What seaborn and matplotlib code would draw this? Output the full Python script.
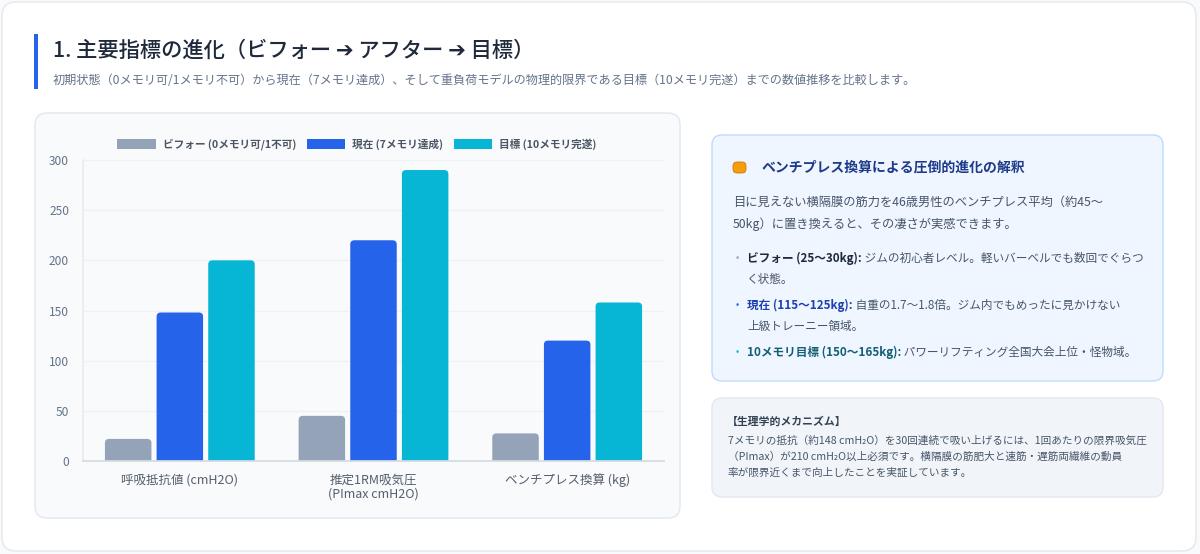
import matplotlib
matplotlib.use('Agg')
import matplotlib.pyplot as plt
from matplotlib.patches import FancyBboxPatch, Rectangle, Patch
import seaborn as sns
import pandas as pd

# DATA
metrics = ['呼吸抵抗値 (cmH2O)', '推定1RM吸気圧\n(PImax cmH2O)', 'ベンチプレス換算 (kg)']
series = ['ビフォー (0メモリ可/1不可)', '現在 (7メモリ達成)', '目標 (10メモリ完遂)']
before_vals = [22, 45, 27.5]
current_vals = [148, 220, 120]
target_vals = [200, 290, 158]
y_ticks = [0, 50, 100, 150, 200, 250, 300]

colors = ['#94a3b8', '#2563eb', '#06b6d4']

rows = []
for name, vals in zip(series, [before_vals, current_vals, target_vals]):
    for m, v in zip(metrics, vals):
        rows.append({'metric': m, 'series': name, 'value': v})
df = pd.DataFrame(rows)

sns.set_theme(style='white')
plt.rcParams['font.family'] = ['Noto Sans CJK JP', 'DejaVu Sans']

W, H = 1200, 554
fig = plt.figure(figsize=(W / 100, H / 100), dpi=100)
fig.patch.set_facecolor('#f8fafc')

# background layer in pixel coordinates
bg = fig.add_axes([0, 0, 1, 1])
bg.set_xlim(0, W)
bg.set_ylim(H, 0)
bg.axis('off')


def box(x0, y0, x1, y1, fc, ec, r=10, lw=1.0):
    bg.add_patch(FancyBboxPatch((x0, y0), x1 - x0, y1 - y0,
                                boxstyle=f'round,pad=0,rounding_size={r}',
                                fc=fc, ec=ec, lw=lw))


box(2, 2, 1196, 551, 'white', '#e5e7eb', r=14)
box(35, 113, 680, 518, '#f8fafc', '#e2e8f0', r=12)
box(712, 135, 1163, 381, '#eff6ff', '#bfdbfe', r=10)
box(712, 398, 1163, 497, '#f1f5f9', '#e2e8f0', r=10)

# header
bg.add_patch(Rectangle((34, 34), 3.5, 55, fc='#2563eb', ec='none'))
bg.text(53, 51, '1. 主要指標の進化（ビフォー ➔ アフター ➔ 目標）', fontsize=15.3,
        color='#1e293b', va='center', ha='left', fontweight='medium')
bg.text(53, 81, '初期状態（0メモリ可/1メモリ不可）から現在（7メモリ達成）、そして重負荷モデルの物理的限界である目標（10メモリ完遂）までの数値推移を比較します。',
        fontsize=8.75, color='#64748b', va='center', ha='left')

fig.canvas.draw()
renderer = fig.canvas.get_renderer()


def run(x, y, parts, size):
    # draws pieces of text one after another on a line
    for txt, color, weight in parts:
        t = bg.text(x, y, txt, fontsize=size, color=color, fontweight=weight,
                    va='center', ha='left')
        ext = t.get_window_extent(renderer=renderer)
        x += ext.width


# interpretation box
bg.add_patch(FancyBboxPatch((733, 162), 13, 11, boxstyle='round,pad=0,rounding_size=4',
                            fc='#f59e0b', ec='#d97706', lw=0.6))
bg.text(762, 168, 'ベンチプレス換算による圧倒的進化の解釈', fontsize=10,
        color='#1e3a8a', fontweight='bold', va='center', ha='left')
bg.text(733, 202, '目に見えない横隔膜の筋力を46歳男性のベンチプレス平均（約45〜',
        fontsize=8.85, color='#475569', va='center')
bg.text(733, 224, '50kg）に置き換えると、その凄さが実感できます。',
        fontsize=8.85, color='#475569', va='center')

bullets = [
    (258, '#94a3b8', 'ビフォー (25〜30kg):', '#1e293b',
     ' ジムの初心者レベル。軽いバーベルでも数回でぐらつ', 'く状態。'),
    (305, '#2563eb', '現在 (115〜125kg):', '#1e40af',
     ' 自重の1.7〜1.8倍。ジム内でもめったに見かけない', '上級トレーニー領域。'),
    (352, '#06b6d4', '10メモリ目標 (150〜165kg):', '#155e75',
     ' パワーリフティング全国大会上位・怪物域。', None),
]
for y, dot, bold_txt, bold_col, rest, line2 in bullets:
    bg.text(737, y, '•', fontsize=7, color=dot, va='center', ha='center')
    run(747, y, [(bold_txt, bold_col, 'bold'), (rest, '#475569', 'normal')], 8.4)
    if line2:
        bg.text(747, y + 21, line2, fontsize=8.4, color='#475569', va='center')

# mechanism box
bg.text(727, 422, '【生理学的メカニズム】', fontsize=7.8, color='#334155',
        fontweight='bold', va='center')
mech = ['7メモリの抵抗（約148 cmH₂O）を30回連続で吸い上げるには、1回あたりの限界吸気圧',
        '（PImax）が210 cmH₂O以上必須です。横隔膜の筋肥大と速筋・遅筋両繊維の動員',
        '率が限界近くまで向上したことを実証しています。']
for i, line in enumerate(mech):
    bg.text(728, 441 + i * 16, line, fontsize=7.65, color='#475569', va='center')

# CHART
ax = fig.add_axes([83 / W, 1 - 461 / H, (664 - 83) / W, (461 - 160) / H])
ax.set_facecolor('none')
sns.barplot(data=df, x='metric', y='value', hue='series', palette=colors,
            width=0.8, gap=0.1, ax=ax, saturation=1, legend=False)

# rounded tops
for p in list(ax.patches):
    x0, w, h = p.get_x(), p.get_width(), p.get_height()
    if w <= 0 or h <= 0:
        continue
    fc = p.get_facecolor()
    p.set_visible(False)
    r = w * 0.09
    ax.add_patch(FancyBboxPatch((x0, -6), w, h + 6,
                                boxstyle=f'round,pad=0,rounding_size={r}',
                                mutation_aspect=4.0 / r,
                                fc=fc, ec='none', zorder=2))

ax.set_ylim(0, 300)
ax.set_xlim(-0.5, 2.5)
ax.set_yticks(y_ticks)
ax.set_xlabel('')
ax.set_ylabel('')
ax.grid(axis='y', color='#eef1f5', linewidth=1)
ax.set_axisbelow(True)
for s in ['top', 'right']:
    ax.spines[s].set_visible(False)
ax.spines['left'].set_color('#e9edf2')
ax.spines['bottom'].set_color('#d6dce4')
ax.tick_params(axis='y', length=0, pad=10, labelsize=8.6, labelcolor='#64748b')
ax.tick_params(axis='x', length=0, pad=9, labelsize=9, labelcolor='#555f6d')
for lab in ax.get_xticklabels():
    lab.set_linespacing(1.1)

handles = [Patch(fc=c, ec='none') for c in colors]
ax.legend(handles, series, loc='center', bbox_to_anchor=(357 / W, 1 - 144 / H),
          bbox_transform=fig.transFigure, ncol=3, frameon=False,
          handlelength=3.6, handleheight=1.1, handletextpad=0.65,
          columnspacing=1.0, prop={'size': 7.7, 'weight': 'bold'},
          labelcolor='#4b5563')

fig.savefig('out.png', dpi=100, facecolor=fig.get_facecolor())
